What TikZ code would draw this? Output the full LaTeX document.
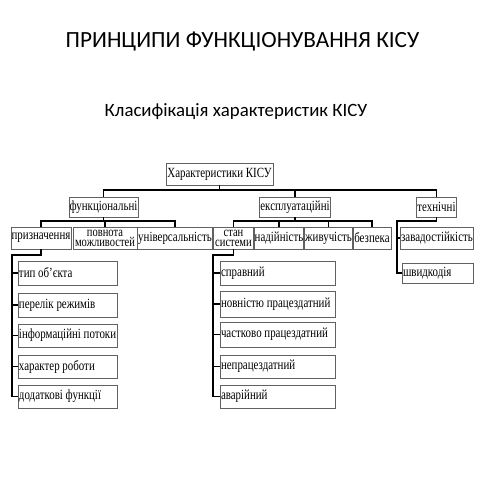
\documentclass[tikz,border=0pt]{standalone}
\usepackage{fontspec}
\setmainfont{Liberation Serif}
\newfontfamily\titlefont{Carlito}
\newfontfamily\cond[FakeStretch=0.78]{Liberation Serif}
\newcommand{\condsize}[2]{\cond\fontsize{#1}{#2}\selectfont}
\newcommand{\lefttext}[2]{\makebox[#1][l]{#2}}
\begin{document}
\begin{tikzpicture}[x=1pt,y=-1pt,
  box/.style={draw=black!62, line width=0.9pt, inner sep=0.5pt, font=\condsize{14}{11}},
  twoline/.style={box, font=\condsize{13.5}{9.8}, align=center, inner ysep=0pt},
  conn/.style={draw=black, line width=1.8pt}]
\path[fill=white,use as bounding box] (0,0) rectangle (480,480);
% titles
\node[font=\titlefont\fontsize{23.2}{23}\selectfont] (t1) at (242.5,42) {ПРИНЦИПИ ФУНКЦІОНУВАННЯ КІСУ};
\node[font=\titlefont\fontsize{18.8}{19}\selectfont] (t2) at (236,112) {Класифікація характеристик КІСУ};
% level 0/1
\node[box, minimum width=107pt, minimum height=22pt] (root) at (219.5,174) {Характеристики КІСУ};
\node[box, minimum width=69pt, minimum height=20pt] (func) at (103.5,207) {функціональні};
\node[box, minimum width=68pt, minimum height=20pt] (expl) at (295,207) {експлуатаційні};
\node[box, minimum width=39pt, minimum height=20pt] (tech) at (436.5,207) {технічні};
% level 2
\node[box, minimum width=60pt, minimum height=22pt] (pryz) at (41,238) {призначення};
\node[twoline, minimum width=64pt, minimum height=22pt] (povn) at (105,238) {повнота\\можливостей};
\node[box, minimum width=74pt, minimum height=22pt] (univ) at (175,238) {універсальність};
\node[twoline, minimum width=40pt, minimum height=22pt] (stan) at (233.5,238) {стан\\системи};
\node[box, minimum width=48pt, minimum height=22pt] (nad) at (279,238) {надійність};
\node[box, minimum width=47pt, minimum height=22pt] (zhyv) at (328.5,238) {живучість};
\node[box, minimum width=38pt, minimum height=22pt] (bez) at (372,238) {безпека};
\node[box, minimum width=72pt, minimum height=22pt] (zav) at (437,238) {завадостійкість};
\node[box, minimum width=71pt, minimum height=20pt] (shv) at (437.5,273) {\lefttext{69pt}{швидкодія}};
% left column
\tikzset{lcol/.style={box, minimum width=99pt}}
\node[lcol, minimum height=24pt] (l1) at (67.5,273) {\lefttext{97pt}{тип об’єкта}};
\node[lcol, minimum height=24pt] (l2) at (67.5,305) {\lefttext{97pt}{перелік режимів}};
\node[lcol, minimum height=23pt] (l3) at (67.5,335.5) {\lefttext{97pt}{інформаційні потоки}};
\node[lcol, minimum height=23pt] (l4) at (67.5,366.5) {\lefttext{97pt}{характер роботи}};
\node[lcol, minimum height=23pt] (l5) at (67.5,396.5) {\lefttext{97pt}{додаткові функції}};
% middle column
\tikzset{mcol/.style={box, minimum width=115pt}}
\node[mcol, minimum height=24pt] (m1) at (277.5,273) {\lefttext{113pt}{справний}};
\node[mcol, minimum height=26pt] (m2) at (277.5,304) {\lefttext{113pt}{новністю працездатний}};
\node[mcol, minimum height=25pt] (m3) at (277.5,334.5) {\lefttext{113pt}{частково працездатний}};
\node[mcol, minimum height=23pt] (m4) at (277.5,366.5) {\lefttext{113pt}{непрацездатний}};
\node[mcol, minimum height=23pt] (m5) at (277.5,396.5) {\lefttext{113pt}{аварійний}};
% connectors level 0-1
\coordinate (b0) at (219.5,190);
\draw[conn] (root.south) -- (b0);
\draw[conn] (func.north) -- (func.north |- b0) -- (tech.north |- b0) -- (tech.north);
\draw[conn] (expl.north) -- (expl.north |- b0);
% func children
\coordinate (b1) at (103.5,221);
\draw[conn] (func.south) -- (b1);
\draw[conn] (pryz.north) -- (pryz.north |- b1) -- (univ.north |- b1) -- (univ.north);
\draw[conn] (povn.north) -- (povn.north |- b1);
% expl children
\coordinate (b2) at (295,221);
\draw[conn] (expl.south) -- (b2);
\draw[conn] (stan.north) -- (stan.north |- b2) -- (bez.north |- b2) -- (bez.north);
\draw[conn] (nad.north) -- (nad.north |- b2);
\draw[conn] (zhyv.north) -- (zhyv.north |- b2);
% tech children
\coordinate (b3) at (397,221);
\draw[conn] (tech.south) -- (tech.south |- b3) -- (b3) -- (b3 |- shv.west) -- (shv.west);
\draw[conn] (b3 |- zav.west) -- (zav.west);
% left column
\coordinate (c1) at (12,255);
\draw[conn] (pryz.south) -- (pryz.south |- c1) -- (c1) -- (c1 |- l5.west) -- (l5.west);
\foreach \n in {l1,l2,l3,l4} \draw[conn] (c1 |- \n.west) -- (\n.west);
% middle column
\coordinate (c2) at (213,255);
\draw[conn] (stan.south) -- (stan.south |- c2) -- (c2) -- (c2 |- m5.west) -- (m5.west);
\foreach \n in {m1,m2,m3,m4} \draw[conn] (c2 |- \n.west) -- (\n.west);
\end{tikzpicture}
\end{document}
